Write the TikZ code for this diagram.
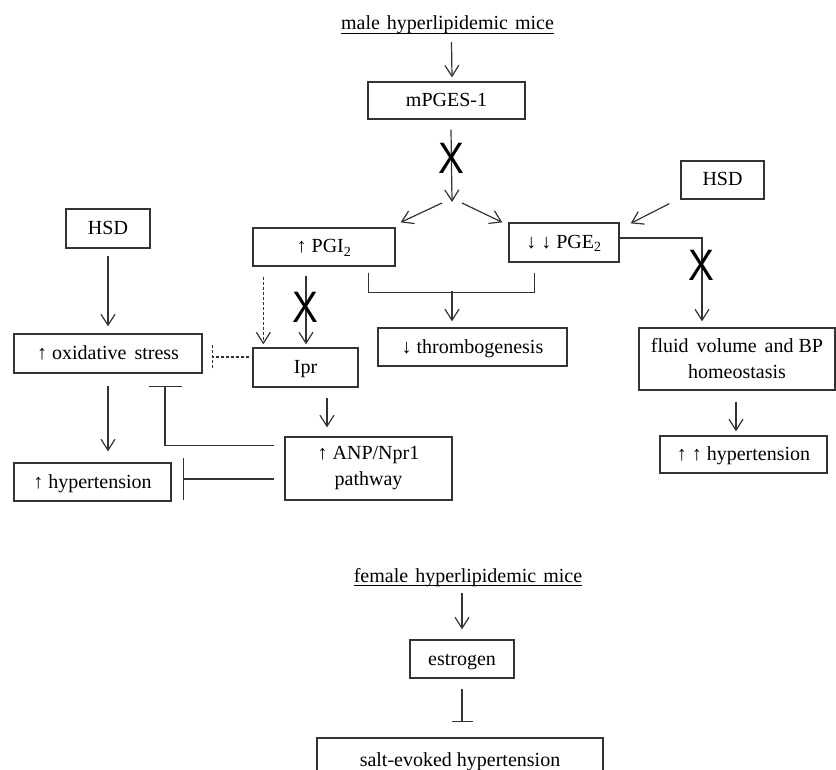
\documentclass[tikz,border=0pt]{standalone}
\usepackage{fontspec}
\usepackage{graphicx}
\setmainfont{Liberation Serif}
\newfontfamily\xsans{Liberation Sans}
\usetikzlibrary{arrows.meta,calc}
\newcommand{\myul}[1]{\setbox0\hbox{#1}\rlap{\rule[-3.5pt]{\wd0}{0.9pt}}\box0}
\begin{document}
\begin{tikzpicture}[x=1pt,y=-1pt,
  box/.style={draw=black!80, line width=1.3pt, inner sep=0pt, align=center, font=\fontsize{20}{26}\selectfont},
  one/.style={text height=15pt, text depth=3pt},
  ln/.style={draw=black!80, line width=1.2pt},
  arr/.style={ln, -{Straight Barb[length=11pt,width=14pt,line width=1.2pt]}},
  dsh/.style={dash pattern=on 3pt off 2pt},
  lbl/.style={inner sep=0pt, anchor=base, font=\fontsize{20}{26}\selectfont},
  xmark/.style={inner sep=0pt, font=\xsans\fontsize{44}{44}\selectfont}
]
\useasboundingbox (0,0) rectangle (836,770);
\clip (0,0) rectangle (836,770);

% titles
\node[lbl] (t1) at (447.5,30) {\myul{male\hspace{7pt}hyperlipidemic\hspace{7pt}mice}};
\node[lbl] (t2) at (468,582) {\myul{female\hspace{7pt}hyperlipidemic\hspace{7pt}mice}};

% boxes
\node[box,one,minimum width=157,minimum height=37] (mP) at (446.5,100.5) {mPGES-1};
\node[box,one,minimum width=142,minimum height=38] (PGI) at (324,247) {↑ PGI\textsubscript{2}};
\node[box,one,minimum width=110,minimum height=39] (PGE) at (564,242.5) {↓ ↓ PGE\textsubscript{2}};
\node[box,one,minimum width=83,minimum height=38] (HSDr) at (722.5,180) {HSD};
\node[box,minimum width=196,minimum height=62] (fluid) at (737,359) {fluid\hspace{8pt}volume\hspace{8pt}and BP\\homeostasis};
\node[box,one,minimum width=167,minimum height=37] (hyp2) at (743.5,454.5) {↑ ↑ hypertension};
\node[box,one,minimum width=189,minimum height=38] (thromb) at (472.5,347) {↓ thrombogenesis};
\node[box,one,minimum width=84,minimum height=39] (HSDl) at (108,228.5) {HSD};
\node[box,one,minimum width=188,minimum height=39] (oxid) at (108,353.5) {↑ oxidative\hspace{8pt}stress};
\node[box,one,minimum width=105,minimum height=39] (Ipr) at (305.5,367.5) {Ipr};
\node[box,minimum width=167,minimum height=63] (ANP) at (368.5,468.5) {↑ ANP/Npr1\\pathway};
\node[box,one,minimum width=157,minimum height=38] (hyp1) at (92.5,482) {↑ hypertension};
\node[box,one,minimum width=104,minimum height=38] (est) at (462,659) {estrogen};
\node[box,one,minimum width=286,minimum height=44] (salt) at (460,760) {salt-evoked hypertension};

% split point
\coordinate (sp) at (452,203);

% connectors
\draw[arr] ($(t1)+(4,17)$) -- ($(mP.north)+(5.5,-4)$);
\draw[arr] ($(mP.south)+(4.5,10)$) -- ($(sp)+(0,-1)$);
\draw[arr] ($(sp)+(-10,0)$) -- ($(PGI.north east)+(5,-5)$);
\draw[arr] ($(sp)+(10,0)$) -- ($(PGE.north west)+(-6,0)$);
\draw[arr] ($(HSDr.south west)+(-11,4)$) -- ($(PGE.north east)+(11,1)$);
\draw[arr] ($(PGE.east)+(0,-4.5)$) -| ($(fluid.north)+(-35,-6)$);
\draw[ln] ($(PGI.south east)+(-27,6)$) -- ++(0,20) -| ($(PGE.south west)+(26,10)$);
\draw[arr] ($(thromb.north)+(-20.5,-36)$) -- ($(thromb.north)+(-20.5,-6)$);
\draw[arr] ($(fluid.south)+(-1,11)$) -- ($(hyp2.north)+(-7.5,-4)$);
\draw[arr] ($(HSDl.south)+(0,7)$) -- ($(oxid.north)+(0,-7)$);
\draw[arr,dsh] ($(PGI.south west)+(11,10)$) -- ($(Ipr.north west)+(11,-3)$);
\draw[arr] ($(PGI.south)+(-18,9)$) -- ($(Ipr.north)+(0.5,-3)$);
\draw[ln,dsh] ($(Ipr.west)+(-3,-10.5)$) -- ($(oxid.east)+(10,3.5)$);
\draw[ln,dsh] ($(oxid.east)+(10,-8.5)$) -- ($(oxid.east)+(10,16.5)$);
\draw[arr] ($(Ipr.south)+(21.5,10)$) -- ($(ANP.north)+(-41.5,-9)$);
\draw[ln,-{Bar[width=33pt,line width=1.2pt]}] ($(ANP.north west)+(-10,9)$) -| ($(oxid.south)+(57,12)$);
\draw[arr] ($(oxid.south)+(0,12)$) -- ($(hyp1.north)+(15.5,-11)$);
\draw[ln,-{Bar[width=42pt,line width=1.2pt]}] ($(ANP.west)+(-10,10.5)$) -- ($(hyp1.east)+(11,-3)$);
\draw[arr] ($(t2)+(-6,16)$) -- ($(est.north)+(0,-10)$);
\draw[ln,-{Bar[width=21pt,line width=1.2pt]}] ($(est.south)+(0,10)$) -- ($(salt.north)+(2,-15)$);

% blocked marks
\node[xmark] (x1) at (451.5,158) {\scalebox{0.88}[1]{X}};
\node[xmark] (x2) at (305,307) {\scalebox{0.88}[1]{X}};
\node[xmark] (x3) at (701,265) {\scalebox{0.88}[1]{X}};
\end{tikzpicture}
\end{document}
